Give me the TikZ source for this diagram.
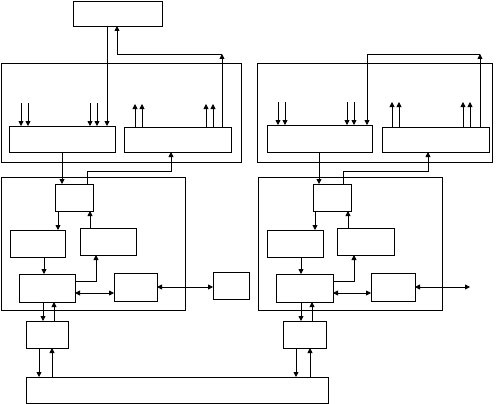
\documentclass[tikz,border=0pt]{standalone}
\usetikzlibrary{arrows.meta}
\tikzset{
  box/.style={draw, line width=0.8pt, inner sep=0pt, outer sep=0pt},
  arr/.style={-{Triangle[length=5pt,width=5pt]}, line width=0.8pt},
  darr/.style={{Triangle[length=5pt,width=5pt]}-{Triangle[length=5pt,width=5pt]}, line width=0.8pt},
  ln/.style={line width=0.8pt}
}
\newcommand\mybox[5]{\node[box, minimum width={(#4-#2)*1pt}, minimum height={(#5-#3)*1pt}] (#1) at ({(#2+#4)/2},{(#3+#5)/2}) {};}
\begin{document}
\begin{tikzpicture}[x=1pt,y=-1pt]
\useasboundingbox (0,0) rectangle (498,404);
% left group
\mybox{tb}{73}{1}{162}{26}
\mybox{O1}{1}{63}{241}{162}
\mybox{L1}{9}{126}{115}{152}
\mybox{R1}{124}{127}{231}{152}
\mybox{O2}{1}{177}{185}{310}
\mybox{A}{55}{184}{93}{211}
\mybox{B}{10}{230}{65}{257}
\mybox{C}{80}{228}{136}{255}
\mybox{D}{19}{274}{75}{302}
\mybox{E}{114}{273}{157}{301}
\mybox{F}{213}{272}{249}{299}
\mybox{G}{26}{321}{68}{348}
\mybox{bus}{26}{377}{328}{403}
% right group
\mybox{O3}{257}{63}{492}{162}
\mybox{L2}{267}{125}{372}{152}
\mybox{R2}{382}{127}{489}{152}
\mybox{O4}{258}{177}{442}{310}
\mybox{A2}{313}{184}{351}{211}
\mybox{B2}{267}{230}{323}{257}
\mybox{C2}{337}{228}{394}{255}
\mybox{D2}{276}{274}{333}{302}
\mybox{E2}{371}{273}{415}{301}
\mybox{G2}{283}{321}{326}{348}
\coordinate (k1) at (222,54);
\coordinate (k2) at (171,171);
\coordinate (k3) at (480,54);
\coordinate (k4) at (428,171);
\coordinate (k5) at (470,287);
% left top connectors
\draw[arr] (tb.south -| 107,0) -- (L1.north -| 107,0);
\draw[arr] (R1.north -| k1) -- (k1);
\draw[arr] (k1) -- (117,54) -- (tb.south -| 117,0);
\foreach \x in {21,28,90,97} \draw[arr] (L1.north -| \x,0) ++(0,-23) -- ++(0,23);
\foreach \x in {135,142,206,213} \draw[arr] (R1.north -| \x,0) -- ++(0,-23);
\draw[arr] (L1.south -| 62,0) -- (A.north -| 62,0);
\draw[arr] (A.north -| 87,0) |- (k2) -- (R1.south -| k2);
\draw[arr] (A.south -| 58,0) -- (B.north -| 58,0);
\draw[arr] (C.north -| 90,0) -- (A.south -| 90,0);
\draw[arr] (B.south -| 44,0) -- (D.north -| 44,0);
\draw[arr] (D.east |- 0,281) -| (C.south -| 96,0);
\draw[darr] (D.east |- 0,293) -- (E.west |- 0,293);
\draw[darr] (E.east |- 0,287) -- (F.west |- 0,287);
\draw[arr] (D.south -| 43,0) -- (G.north -| 43,0);
\draw[arr] (G.north -| 54,0) -- (D.south -| 54,0);
\draw[arr] (G.south -| 39,0) -- (bus.north -| 39,0);
\draw[arr] (bus.north -| 52,0) -- (G.south -| 52,0);
% right connectors
\draw[arr] (R2.north -| k3) -- (k3);
\draw[arr] (k3) -- (367,54) -- (L2.north -| 367,0);
\foreach \x in {278,285,347,354} \draw[arr] (L2.north -| \x,0) ++(0,-23) -- ++(0,23);
\foreach \x in {392,399,463,470} \draw[arr] (R2.north -| \x,0) -- ++(0,-25);
\draw[arr] (L2.south -| 319,0) -- (A2.north -| 319,0);
\draw[arr] (A2.north -| 343,0) |- (k4) -- (R2.south -| k4);
\draw[arr] (A2.south -| 315,0) -- (B2.north -| 315,0);
\draw[arr] (C2.north -| 348,0) -- (A2.south -| 348,0);
\draw[arr] (B2.south -| 301,0) -- (D2.north -| 301,0);
\draw[arr] (D2.east |- 0,281) -| (C2.south -| 354,0);
\draw[darr] (D2.east |- 0,293) -- (E2.west |- 0,293);
\draw[darr] (E2.east |- k5) -- (k5);
\draw[arr] (D2.south -| 301,0) -- (G2.north -| 301,0);
\draw[arr] (G2.north -| 312,0) -- (D2.south -| 312,0);
\draw[arr] (G2.south -| 296,0) -- (bus.north -| 296,0);
\draw[arr] (bus.north -| 310,0) -- (G2.south -| 310,0);
\end{tikzpicture}
\end{document}
